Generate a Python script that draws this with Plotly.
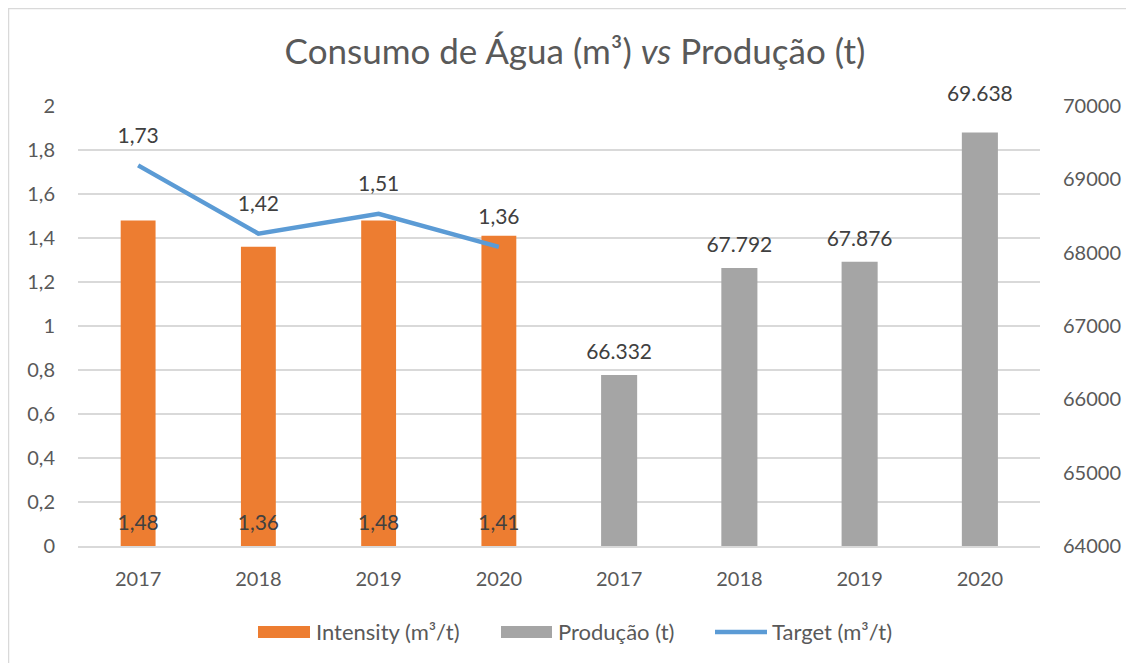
import plotly.graph_objects as go

categories = ["2017", "2018", "2019", "2020", "2017", "2018", "2019", "2020"]
intensity_values = [1.48, 1.36, 1.48, 1.41]
producao_values = [66332, 67792, 67876, 69638]
target_values = [1.73, 1.42, 1.51, 1.36]

x_int = [0, 1, 2, 3]
x_prod = [4, 5, 6, 7]

# page has an 8px body margin; figure size compensates
OFF = 8
W, H = 1134 - OFF, 663 - OFF
# plot area in page pixels
L, R, T, B = 78, 1040, 106, 546


def px(x):
    return (x - L) / (R - L)


def py(y):
    return (B - y) / (B - T)


FONT = "Lato"
TXT = "#595959"
LBL = "#404040"
ORANGE = "#ED7D31"
GRAY = "#A5A5A5"
BLUE = "#5B9BD5"

fig = go.Figure()

fig.add_trace(go.Bar(
    x=x_int, y=intensity_values, name="Intensity (m³/t)",
    marker=dict(color=ORANGE, line=dict(width=0)), width=0.29,
    yaxis="y", showlegend=False,
))
# labels of the intensity bars, drawn at the bar base
fig.add_trace(go.Scatter(
    x=x_int, y=[0] * len(intensity_values), mode="markers+text",
    text=[f"{v:.2f}".replace(".", ",") for v in intensity_values],
    textposition="top center",
    marker=dict(size=16, opacity=0),
    textfont=dict(color=LBL, size=21, family=FONT), cliponaxis=False,
    yaxis="y", showlegend=False, hoverinfo="skip",
))
fig.add_trace(go.Bar(
    x=x_prod, y=producao_values, name="Produção (t)",
    marker=dict(color=GRAY, line=dict(width=0)), width=0.3,
    yaxis="y2", showlegend=False,
))
# labels above the production bars
fig.add_trace(go.Scatter(
    x=x_prod, y=producao_values, mode="markers+text",
    texttemplate="%{y:,d}", textposition="top center",
    marker=dict(size=[16, 16, 16, 40], opacity=0),
    textfont=dict(color=LBL, size=21, family=FONT), cliponaxis=False,
    yaxis="y2", showlegend=False, hoverinfo="skip",
))
fig.add_trace(go.Scatter(
    x=x_int, y=target_values, name="Target (m³/t)", mode="lines+markers+text",
    line=dict(color=BLUE, width=4.5),
    marker=dict(size=26, opacity=0, color=BLUE),
    texttemplate="%{y:.2f}", textposition="top center",
    textfont=dict(color=LBL, size=21, family=FONT), cliponaxis=False,
    yaxis="y", showlegend=False,
))

# custom legend (swatches + labels)
LEG_Y = 632
shapes = [
    dict(type="rect", xref="paper", yref="paper",
         x0=px(8.5), x1=px(1170), y0=py(8.5), y1=py(700),
         line=dict(color="#D9D9D9", width=1.5), fillcolor="rgba(0,0,0,0)",
         layer="below"),
    dict(type="rect", xref="paper", yref="paper",
         x0=px(258), x1=px(310), y0=py(LEG_Y - 6), y1=py(LEG_Y + 6),
         fillcolor=ORANGE, line=dict(width=0)),
    dict(type="rect", xref="paper", yref="paper",
         x0=px(501), x1=px(552), y0=py(LEG_Y - 6), y1=py(LEG_Y + 6),
         fillcolor=GRAY, line=dict(width=0)),
    dict(type="line", xref="paper", yref="paper",
         x0=px(715), x1=px(767), y0=py(LEG_Y), y1=py(LEG_Y),
         line=dict(color=BLUE, width=4.5)),
]
legend_labels = ["Intensity (m³/t)", "Produção (t)", "Target (m³/t)"]
legend_x = [314, 556, 770]
annotations = [
    dict(text=t, x=px(xx), y=py(LEG_Y - 1), xref="paper", yref="paper",
         xanchor="left", yanchor="middle", showarrow=False,
         font=dict(size=22, color=TXT, family=FONT))
    for t, xx in zip(legend_labels, legend_x)
]

fig.update_layout(
    width=W, height=H,
    margin=dict(l=L - OFF, r=W - (R - OFF), t=T - OFF, b=H - (B - OFF),
                autoexpand=False),
    paper_bgcolor="white", plot_bgcolor="white",
    separators=",.",
    barmode="overlay",
    font=dict(family=FONT, color=TXT, size=20),
    title=dict(
        text="Consumo de Água (m³) <i>vs</i> Produção (t)",
        x=(575 - OFF) / W, xanchor="center", y=1 - (52 - OFF) / H,
        yanchor="middle",
        font=dict(size=35, color=TXT, family=FONT),
    ),
    xaxis=dict(
        range=[-0.5, 7.5], tickmode="array", tickvals=list(range(8)),
        ticktext=categories, showgrid=False, zeroline=False,
        showline=True, linecolor="#D9D9D9", linewidth=1.5,
        ticks="", ticklabelstandoff=14,
        tickfont=dict(size=20, color=TXT),
    ),
    yaxis=dict(
        range=[0, 2], dtick=0.2, tick0=0, showgrid=True, gridcolor="#D9D9D9",
        gridwidth=1.5, zeroline=False, showline=False, ticks="",
        ticklabelstandoff=22, tickfont=dict(size=20, color=TXT),
    ),
    yaxis2=dict(
        range=[64000, 70000], dtick=1000, overlaying="y", side="right",
        showgrid=False, zeroline=False, showline=False, ticks="",
        tickformat="d", ticklabelstandoff=22,
        tickfont=dict(size=20, color=TXT),
    ),
    showlegend=False,
    shapes=shapes,
    annotations=annotations,
)

fig.write_html("out.html")
